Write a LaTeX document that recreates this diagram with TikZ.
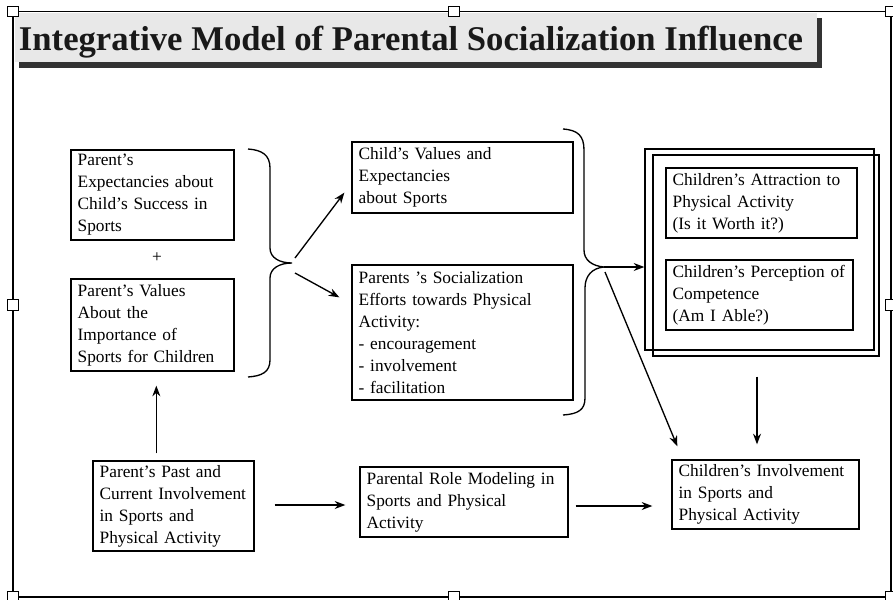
\documentclass[tikz,border=0pt]{standalone}
\usepackage{fontspec}
\setmainfont{Liberation Serif}
\usetikzlibrary{arrows.meta,calc}
\begin{document}
\begin{tikzpicture}[x=0.75pt,y=-0.75pt,
  txt/.style={font=\fontsize{13}{16.5}\selectfont},
  box/.style={draw, line width=1pt, txt, align=left, inner xsep=5pt, inner ysep=0pt},
  frm/.style={draw, line width=1pt, inner sep=0pt},
  arr/.style={line width=1pt, -{Stealth[length=8pt,width=6pt]}},
  brace/.style={line width=1pt},
  handle/.style={draw, fill=white, line width=0.8pt, minimum size=8pt, inner sep=0pt}]
\useasboundingbox (0,0) rectangle (893,600);

% outer frame
\draw[line width=1pt] (13,11.5) rectangle (891,597);

% title banner
\fill[black!80] (19,18) rectangle (822,68);
\fill[black!9] (15,13) rectangle (817,62);
\node[font=\fontsize{26}{30}\selectfont\bfseries, text=black!90, anchor=base] (title) at (411,50)
  {Integrative Model of Parental Socialization Influence};

% boxes
\node[box, minimum width=122.25pt, text width=112.25pt, minimum height=67.5pt] (pexp) at (152.5,195)
  {Parent’s\\Expectancies about\\Child’s Success in\\Sports};
\node[txt] (plus) at (157,258) {+};
\node[box, minimum width=122.25pt, text width=112.25pt, minimum height=69pt] (pval) at (152.5,325)
  {Parent’s Values\\About the\\Importance of\\Sports for Children};
\node[box, minimum width=165.75pt, text width=155.75pt, minimum height=53.25pt] (cval) at (462.5,177.5)
  {Child’s Values and\\Expectancies\\about Sports};
\node[box, minimum width=165.75pt, text width=155.75pt, minimum height=101.25pt] (psoc) at (462.5,332.5)
  {Parents ’s Socialization\\Efforts towards Physical\\Activity:\\- encouragement\\- involvement\\- facilitation};

\node[frm, minimum width=171.75pt, minimum height=150.75pt] (outA) at (759.5,249.5) {};
\node[frm, minimum width=169.5pt, minimum height=150.75pt] (outB) at (766,255.5) {};
\node[box, minimum width=143.25pt, text width=133.25pt, minimum height=52.5pt] (attr) at (761.5,203)
  {Children’s Attraction to\\Physical Activity\\(Is it Worth it?)};
\node[box, minimum width=140.25pt, text width=130.25pt, minimum height=52.5pt] (comp) at (759.5,295)
  {Children’s Perception of\\Competence\\(Am I Able?)};

\node[box, minimum width=140.25pt, text width=130.25pt, minimum height=51.75pt] (cinv) at (765.5,494.5)
  {Children’s Involvement\\in Sports and\\Physical Activity};
\node[box, minimum width=120.75pt, text width=110.75pt, minimum height=67.5pt] (ppast) at (173.5,506)
  {Parent’s Past and\\Current Involvement\\in Sports and\\Physical Activity};
\node[box, minimum width=156pt, text width=146pt, minimum height=52.5pt] (model) at (464,502)
  {Parental Role Modeling in\\Sports and Physical\\Activity};

% braces
\coordinate (t1) at (292,263);
\coordinate (t2) at (604,267);
\draw[brace] (248,149) .. controls (262,150) and (270,155) .. (270,168) -- (270,248)
  .. controls (270,258) and (280,263) .. (t1)
  .. controls (280,263) and (270,268) .. (270,278) -- (270,360)
  .. controls (270,372) and (262,376) .. (248,377);
\draw[brace] (563,129) .. controls (578,130) and (584,136) .. (584,150) -- (584,250)
  .. controls (584,260) and (592,266) .. (t2)
  .. controls (592,268) and (585,276) .. (585,288) -- (585,398)
  .. controls (585,410) and (578,414) .. (563,415);

% arrows
\draw[arr] ($(t1)+(3,-5)$) -- ($(cval.south west)+(-7,-21)$);
\draw[arr] ($(t1)+(3,10)$) -- ($(psoc.north west)+(-12,33)$);
\draw[arr] (t2) -- (outA.west |- t2);
\draw[arr] ($(t2)+(1,5)$) -- ($(cinv.north west)+(6,-13)$);
\draw[arr] ($(outB.south)+(-9,20)$) -- ($(cinv.north)+(-8.5,-15)$);
\draw[arr] ($(ppast.north west)+(64,-7)$) -- ($(pval.south west)+(86,14)$);
\draw[arr] ($(ppast.east)+(20,-1)$) -- ($(model.west)+(-14,3)$);
\draw[arr] ($(model.east)+(7,4)$) -- ($(cinv.west)+(-19,11.5)$);

% selection handles
\foreach \i/\p in {1/{(13,11.5)},2/{(454,11.5)},3/{(891,11.5)},4/{(13,305)},5/{(891,305)},6/{(13,597)},7/{(454,597)},8/{(891,597)}}
  \node[handle] (h\i) at \p {};
\end{tikzpicture}
\end{document}
